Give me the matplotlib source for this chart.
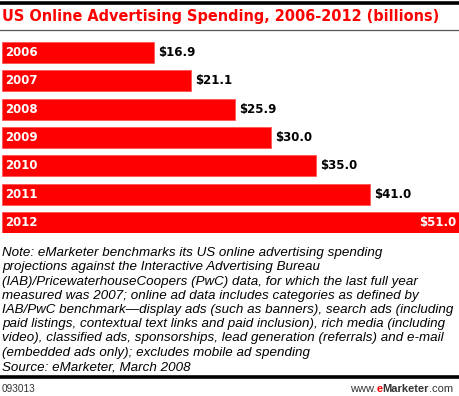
import matplotlib
matplotlib.use("Agg")
from matplotlib import pyplot as plt
from matplotlib.lines import Line2D

# Data
years = ["2006", "2007", "2008", "2009", "2010", "2011", "2012"]
spending = [16.9, 21.1, 25.9, 30.0, 35.0, 41.0, 51.0]
value_labels = ["$16.9", "$21.1", "$25.9", "$30.0", "$35.0", "$41.0", "$51.0"]

title = "US Online Advertising Spending, 2006-2012 (billions)"
note_lines = [
    "Note: eMarketer benchmarks its US online advertising spending",
    "projections against the Interactive Advertising Bureau",
    "(IAB)/PricewaterhouseCoopers (PwC) data, for which the last full year",
    "measured was 2007; online ad data includes categories as defined by",
    "IAB/PwC benchmark\u2014display ads (such as banners), search ads (including",
    "paid listings, contextual text links and paid inclusion), rich media (including",
    "video), classified ads, sponsorships, lead generation (referrals) and e-mail",
    "(embedded ads only); excludes mobile ad spending",
    "Source: eMarketer, March 2008",
]
chart_id = "093013"

W, H = 460, 396
RED = "#ff0000"

fig = plt.figure(figsize=(W / 100, H / 100), dpi=100)
fig.patch.set_facecolor("white")


def px(x, y):
    return x / W, 1 - y / H


# Rules
fig.add_artist(Line2D([0, 1], [1 - 2.5 / H] * 2, color="black", lw=2.6))
fig.add_artist(Line2D([0, 1], [1 - 30 / H] * 2, color="#555555", lw=0.9))
fig.add_artist(Line2D([0, 1], [1 - 376.5 / H] * 2, color="black", lw=2.6))

fig.canvas.draw()
r = fig.canvas.get_renderer()

# Title, sized so it spans like the reference
ttl = fig.text(*px(2, 17), title, color=RED, fontsize=11, fontweight="bold",
               family="DejaVu Sans", va="center", ha="left")
w = ttl.get_window_extent(renderer=r).width
ttl.set_fontsize(11 * 435 / w)

# Bars
ax = fig.add_axes([2 / W, 1 - 233 / H, 458 / W, 191 / H])
ax.set_axis_off()
h = 21 / 28.33
ax.barh(range(len(years)), spending, height=h, color=RED,
        edgecolor="#ff5555", linewidth=0.6)
ax.set_xlim(0, 51)
ax.set_ylim(len(years) - 1 + h / 2, -h / 2)

for i, (yr, v, lab) in enumerate(zip(years, spending, value_labels)):
    ax.text(0.35, i, yr, color="white", fontsize=8.5, fontweight="bold",
            va="center", ha="left")
    if v >= max(spending):
        ax.text(v - 0.45, i, lab, color="white", fontsize=8.5,
                fontweight="bold", va="center", ha="right")
    else:
        ax.text(v + 0.45, i, lab, color="black", fontsize=8.5,
                fontweight="bold", va="center", ha="left")

# Note
for k, line in enumerate(note_lines):
    fig.text(*px(2, 256 + k * 14.25), line, fontsize=9.6, style="italic",
             family="Liberation Sans", color="black", va="baseline", ha="left")

# Footer
fig.text(*px(2, 388.5), chart_id, fontsize=7.2, color="#333333",
         family="Liberation Sans", va="center", ha="left")
foot = [("www.", "#333333", "normal"), ("e", RED, "bold"),
        ("Marketer", "#333333", "bold"), (".com", "#333333", "normal")]
# lay the footer pieces out right-to-left
x = 453
for txt, col, wt in reversed(foot):
    t = fig.text(*px(x, 388.5), txt, fontsize=8.0, color=col, fontweight=wt,
                 family="Liberation Sans", va="center", ha="right")
    x -= t.get_window_extent(renderer=r).width

fig.savefig("out.png", dpi=100)
